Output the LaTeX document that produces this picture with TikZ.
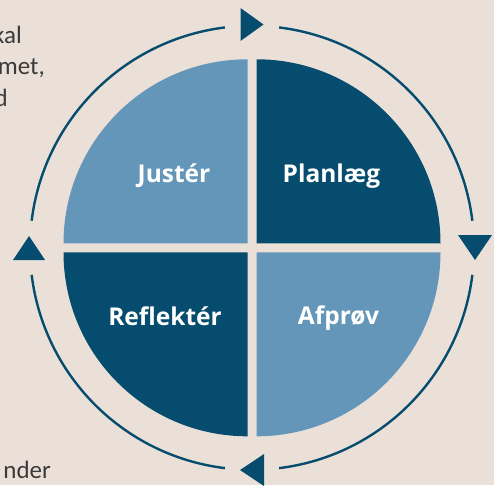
\documentclass[tikz,border=0pt]{standalone}
\usepackage{fontspec}
\newfontfamily\lblfamily{Open Sans}
\newfontfamily\sidefamily{Carlito}
\newcommand\lblfont{\lblfamily\bfseries\fontsize{24.5}{28}\selectfont}
\newcommand\sidefontsz{\sidefamily\fontsize{25}{30}\selectfont}
\definecolor{bg}{HTML}{EBE0D8}
\definecolor{dblue}{HTML}{064C6E}
\definecolor{lblue}{HTML}{6496B9}
\definecolor{txt}{HTML}{3A3A3A}
\tikzset{
  quad/.style={draw=none},
  lbl/.style={text=white, font=\lblfont, anchor=base, inner sep=0pt},
  side/.style={text=txt, font=\sidefontsz, anchor=base east, inner sep=0pt},
  ring/.style={draw=dblue, line width=2.4pt},
  arrowtri/.style={fill=dblue, draw=none}
}
\begin{document}
\begin{tikzpicture}[x=1pt,y=1pt]
\fill[bg] (0,0) rectangle (494,485);
\useasboundingbox (0,0) rectangle (494,485);
\clip (0,0) rectangle (494,485);
\coordinate (C) at (252,237.2);
% quadrants
\fill[quad, lblue] (247.5,241.7) -- ++(-184,0) arc[start angle=180, end angle=90, radius=184] -- cycle;
\fill[quad, dblue] (256.5,241.7) -- ++(0,184) arc[start angle=90, end angle=0, radius=184] -- cycle;
\fill[quad, lblue] (256.5,232.7) -- ++(184,0) arc[start angle=0, end angle=-90, radius=184] -- cycle;
\fill[quad, dblue] (247.5,232.7) -- ++(0,-184) arc[start angle=-90, end angle=-180, radius=184] -- cycle;
% ring
\draw[ring] (C) ++(7:222) arc[start angle=7, end angle=83, radius=222];
\draw[ring] (C) ++(97:222) arc[start angle=97, end angle=173, radius=222];
\draw[ring] (C) ++(187:222) arc[start angle=187, end angle=263, radius=222];
\draw[ring] (C) ++(277:222) arc[start angle=277, end angle=353, radius=222];
% arrowheads
\fill[arrowtri] (240.5,477) -- (240.5,444) -- (263.5,460.5) -- cycle;
\fill[arrowtri] (458,250) -- (492,250) -- (475,225) -- cycle;
\fill[arrowtri] (13,225) -- (45,225) -- (29,249) -- cycle;
\fill[arrowtri] (264,31) -- (264,-1) -- (240,15) -- cycle;
% labels
\node[lbl] (juster) at (174,302) {Justér};
\node[lbl] (planlaeg) at (331.5,302) {Planlæg};
\node[lbl] (reflekter) at (165,160) {Reflektér};
\node[lbl] (afprov) at (338.5,161) {Afprøv};
% side text fragments
\node[side] (t1) at (22,441) {kal};
\node[side] (t2) at (45,410) {met,};
\node[side] (t3) at (8,378) {d};
\node[side] (t4) at (51,7) {nder};
\end{tikzpicture}
\end{document}
